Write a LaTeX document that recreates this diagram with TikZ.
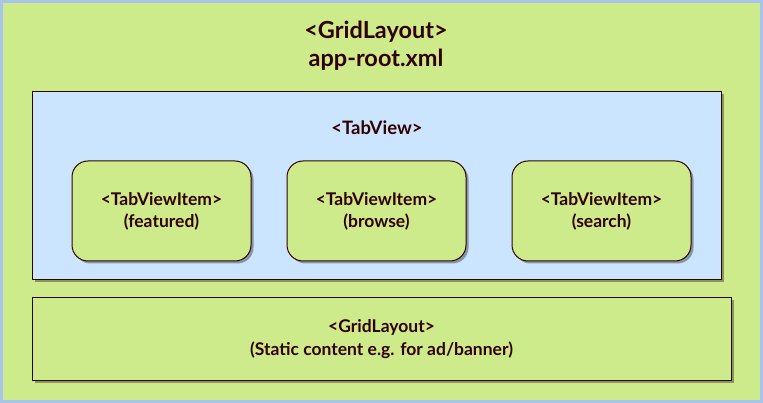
\documentclass[tikz,border=0pt]{standalone}
\usepackage{fontspec}
\setmainfont{Lato}
\usetikzlibrary{shadows}
\definecolor{leaf}{HTML}{CDEB8B}
\definecolor{sky}{HTML}{CCE5FF}
\definecolor{rim}{HTML}{A9C4EB}
\definecolor{ink}{HTML}{330000}
\tikzset{
  boxshadow/.style = {drop shadow = {shadow xshift = 2.5pt, shadow yshift = -2.5pt, fill = black, opacity = 0.35}},
  plainbox/.style = {draw = ink, line width = 1pt, boxshadow, inner sep = 0pt},
  itembox/.style = {plainbox, fill = leaf, rounded corners = 16pt, minimum width = 179pt, minimum height = 100pt, align = center, font = \bfseries\fontsize{17.5}{22}\selectfont, text = ink},
}
\begin{document}
\begin{tikzpicture}[x = 1pt, y = -1pt]
\useasboundingbox (0,0) rectangle (763,403);
\draw [fill = leaf, draw = rim, line width = 3pt] (1.5,1.5) rectangle (761.5,401.5);
\node (root) [text = ink, align = center, font = \bfseries\fontsize{23.5}{28}\selectfont] at (376,46) {<GridLayout>\\app-root.xml};
% tab container
\node (tabview) [plainbox, fill = sky, minimum width = 689pt, minimum height = 188pt] at (376.5,186) {};
\node (tabtitle) [text = ink, font = \bfseries\fontsize{18.5}{22}\selectfont] at (377,128) {<TabView>};
\foreach \x/\name/\tag in {161.5/featured/featured, 376.5/browse/browse, 601.5/search/search}
  \node (\name) [itembox] at (\x,211) {<TabViewItem>\\(\tag)};
% static area
\node (banner) [plainbox, fill = leaf, minimum width = 699pt, minimum height = 82pt, align = center, text = ink, font = \bfseries\fontsize{17.5}{23}\selectfont] at (381.5,339) {<GridLayout>\\(Static content e.g. for ad/banner)};
\end{tikzpicture}
\end{document}
